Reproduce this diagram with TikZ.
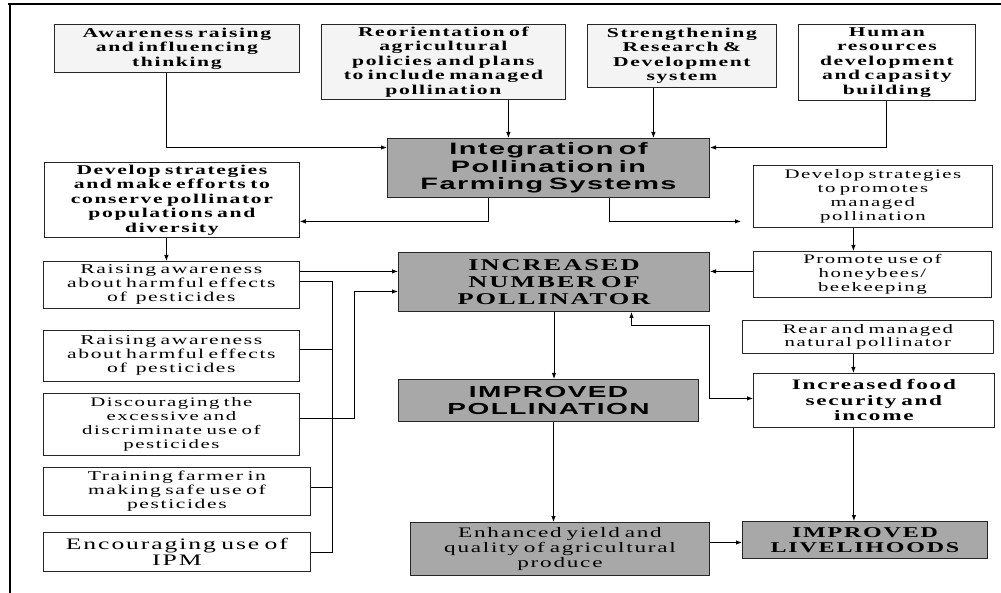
\documentclass[tikz,border=0pt]{standalone}
\usepackage{fontspec}
\newfontfamily\rmS[FakeStretch=1.6,LetterSpace=12,WordSpace=2.4]{Liberation Serif}
\newfontfamily\sfS[FakeStretch=1.75,LetterSpace=9,WordSpace=2]{Liberation Sans}
\usetikzlibrary{arrows.meta}
\definecolor{lightfill}{HTML}{F4F4F4}
\definecolor{grayfill}{HTML}{A8A8A8}
\tikzset{
 box/.style={draw=black!85, line width=0.8pt, anchor=north west, inner sep=0pt, align=center},
 lbox/.style={box, fill=lightfill},
 wbox/.style={box, fill=white},
 gbox/.style={box, fill=grayfill, line width=1pt},
 arr/.style={-{Latex[length=6pt,width=4.5pt]}, line width=0.9pt},
 darr/.style={{Latex[length=6pt,width=4.5pt]}-{Latex[length=6pt,width=4.5pt]}, line width=0.9pt},
 ln/.style={line width=0.8pt},
 fb/.style 2 args={font={\rmS\bfseries\fontsize{#1}{#2}\selectfont}},
 fr/.style 2 args={font={\rmS\fontsize{#1}{#2}\selectfont}},
 fs/.style 2 args={font={\sfS\bfseries\fontsize{#1}{#2}\selectfont}},
}
\begin{document}
\begin{tikzpicture}[x=1pt,y=-1pt]
\useasboundingbox (0,0) rectangle (1001,593);
% frame
\draw[line width=2pt] (8,4) -- (1001,4);
\draw[line width=2pt] (10,4) -- (10,593);
% top row
\node[lbox, fb={13.5}{14.5}, text width=245pt, minimum height=48pt] (aw) at (54,24) {Awareness raising\\and influencing\\thinking};
\node[lbox, fb={13.5}{14.5}, text width=244pt, minimum height=75pt] (re) at (321,24) {Reorientation of\\agricultural\\policies and plans\\to include managed\\pollination};
\node[lbox, fb={13.5}{14.5}, text width=189pt, minimum height=63pt] (st) at (587,24) {Strengthening\\Research \&\\Development\\system};
\node[wbox, fb={13.5}{14.5}, text width=177pt, minimum height=76pt] (hu) at (798,24) {Human\\resources\\development\\and capasity\\building};
% center
\node[gbox, fs={16.5}{17.5}, text width=322pt, minimum height=59pt] (int) at (387,138) {Integration of\\Pollination in\\Farming Systems};
\node[gbox, fb={16.5}{17}, text width=311pt, minimum height=59pt] (inc) at (398,252) {INCREASED\\NUMBER OF\\POLLINATOR};
\node[gbox, fs={16}{17}, text width=300pt, minimum height=42pt] (imp) at (398,379) {IMPROVED\\POLLINATION};
\node[gbox, fr={14.5}{15}, text width=299pt, minimum height=53pt] (enh) at (410,522) {Enhanced yield and\\quality of agricultural\\produce};
\node[gbox, fb={15}{15.5}, text width=245pt, minimum height=37pt] (liv) at (742,521) {IMPROVED\\LIVELIHOODS};
% left column
\node[wbox, fb={13.5}{14.5}, text width=255pt, minimum height=75pt] (dl) at (44,162) {Develop strategies\\and make efforts to\\conserve pollinator\\populations and\\diversity};
\node[wbox, fr={13.5}{14}, text width=256pt, minimum height=47pt] (ra1) at (43,261) {Raising awareness\\about harmful effects\\of~ pesticides};
\node[wbox, fr={13.5}{14}, text width=256pt, minimum height=51pt] (ra2) at (43,330) {Raising awareness\\about harmful effects\\of~ pesticides};
\node[wbox, fr={13}{14}, text width=256pt, minimum height=62pt] (dis) at (43,393) {Discouraging the\\excessive and\\discriminate use of\\pesticides};
\node[wbox, fr={13.5}{14}, text width=267pt, minimum height=48pt] (tr) at (43,467) {Training farmer in\\making safe use of\\pesticides};
\node[wbox, fr={16}{16}, text width=267pt, minimum height=39pt] (enc) at (43,532) {Encouraging use of\\IPM};
% right column
\node[wbox, fr={13}{14.3}, text width=239pt, minimum height=62pt] (d2) at (753,165) {Develop strategies\\to promotes\\managed\\pollination};
\node[wbox, fr={13}{14}, text width=238pt, minimum height=46pt] (pr) at (753,251) {Promote use of\\honeybees/\\beekeeping};
\node[wbox, fr={13}{13.5}, text width=251pt, minimum height=33pt] (rr) at (742,320) {Rear and managed\\natural pollinator};
\node[wbox, fb={14.5}{15.5}, text width=241pt, minimum height=54pt] (fd) at (753,373) {Increased food\\security and\\income};
% helper coordinates
\coordinate (bus) at (332,0);
\coordinate (bus2) at (354,0);
\coordinate (loopc) at (709,325);
% connectors top
\draw[arr] ([xshift=-10.5pt]aw.south) |- ([yshift=20.5pt]int.west);
\draw[arr] ([xshift=65pt]re.south) -- ([xshift=65pt]re.south |- int.north);
\draw[arr] ([xshift=-28.5pt]st.south) -- ([xshift=-28.5pt]st.south |- int.north);
\draw[arr] (hu.south) |- ([yshift=20.5pt]int.east);
\draw[arr] ([xshift=-60pt]int.south) |- ([yshift=-21.5pt]dl.east);
\draw[arr, shorten >=12pt] ([xshift=61pt]int.south) |- ([yshift=-25pt]d2.west);
% left
\draw[arr] ([xshift=-5.5pt]dl.south) -- ([xshift=-5.5pt]dl.south |- ra1.north);
\draw[arr] ([yshift=13.5pt]ra1.east) -- ([yshift=13.5pt]ra1.east -| inc.west);
\draw[ln] ([yshift=3.5pt]ra1.east) -| (bus |- enc.east) -- (enc.east);
\draw[ln] ([yshift=6.5pt]ra2.east) -- ([yshift=6.5pt]ra2.east -| bus);
\draw[ln] ([yshift=4pt]tr.east) -- ([yshift=4pt]tr.east -| bus);
\draw[arr] ([yshift=6pt]dis.east) -| ([yshift=-9.5pt]inc.west -| bus2) -- ([yshift=-9.5pt]inc.west);
% right
\draw[arr] ([xshift=-19.5pt]d2.south) -- ([xshift=-19.5pt]d2.south |- pr.north);
\draw[arr] ([yshift=3pt]pr.west) -- ([yshift=3pt]pr.west -| inc.east);
\draw[arr] ([xshift=-14.5pt]rr.south) -- ([xshift=-14.5pt]rr.south |- fd.north);
\draw[arr] ([xshift=-20pt]fd.south) -- ([xshift=-20pt]fd.south |- liv.north);
\draw[darr] ([xshift=77.5pt]inc.south) |- (loopc) |- ([yshift=2pt]fd.west);
% center chain
\draw[arr] (inc.south) -- (inc.south |- imp.north);
\draw[arr] ([xshift=5pt]imp.south) -- ([xshift=5pt]imp.south |- enh.north);
\draw[arr] ([yshift=6.5pt]enh.east) -- ([yshift=6.5pt]enh.east -| liv.west);
\end{tikzpicture}
\end{document}
